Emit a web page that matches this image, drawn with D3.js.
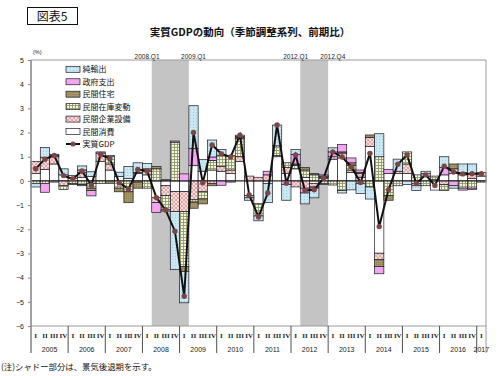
<!DOCTYPE html>
<html><head><meta charset="utf-8">
<script src="https://cdn.jsdelivr.net/npm/d3@7"></script>
<style>
body{margin:0;background:#fff;}
svg{display:block;font-family:"Liberation Sans",Arial,"Noto Sans CJK JP",sans-serif;}
</style>
</head><body>
<svg id="c" width="500" height="376"></svg>
<script>
// ---- data ----
const years = ["2005","2006","2007","2008","2009","2010","2011","2012","2013","2014","2015","2016","2017"];
const qNames = ["I","II","III","IV"];
const quarters = [];
years.forEach(y => qNames.forEach((q, i) => { if (y !== "2017" || i === 0) quarters.push(y + "Q" + (i + 1)); }));

const seriesNames = ["民間消費","民間企業設備","民間在庫変動","民間住宅","政府支出","純輸出"];
const consumption = [0.3,0.48,0.7,0.25,0.1,0.15,0.18,0.8,0.45,0.18,0.1,0.3,0.25,-0.7,-0.2,-0.44,-0.44,0.63,0.4,0.45,0.4,0.3,0.8,-0.6,-0.95,-0.1,1.0,0.3,0.5,0.15,-0.1,0.1,0.9,0.95,0.35,0.15,1.42,-2.99,0.3,0.3,0.3,-0.1,0.2,-0.38,0.25,0.3,0.25,0.1,0.2];
const capex = [0.5,0.5,0.3,-0.2,0.12,0.2,-0.1,0.35,0.25,0,0,0.05,0.15,-0.2,-0.4,-0.83,-0.83,-0.78,-0.45,-0.1,0.2,0.15,0.2,0.2,0.15,0.25,0.05,0.25,-0.25,-0.3,-0.15,0.05,0.1,0.2,0.1,0.15,0.38,-0.27,0,0.1,0.4,-0.1,0.1,0.05,-0.15,0.2,0.1,0.2,0.15];
const inventory = [-0.1,-0.1,0.05,-0.15,-0.1,-0.15,-0.2,-0.1,0.3,-0.3,-0.45,-0.05,-0.3,0.5,-0.6,1.6,-2.27,-0.1,-0.3,0.4,0.45,0.6,0.74,-0.1,-0.5,0,0.4,0.2,0.15,0.3,0.25,-0.1,-0.17,-0.4,0.2,-0.1,-0.25,1.0,-0.6,-0.2,0.5,0.25,-0.2,0.15,-0.25,0,-0.3,-0.3,-0.05];
const housing = [0,0,0.05,0,-0.05,-0.05,-0.1,0,-0.1,-0.15,-0.45,-0.25,0.1,0.1,0.05,0,-0.2,-0.25,-0.2,-0.1,0,0,0.05,0,0,0,0,0,0.05,0.1,0.05,0.05,0,0.05,0.1,0.05,0.1,-0.28,-0.2,0,0,0,0,0,0,0.2,0,0,0];
const government = [0,-0.37,0,0,0,0.1,-0.22,0.05,0,0,0,0,0,-0.4,0,0.05,0.29,0.72,0,0.14,-0.18,-0.05,0.05,0,0,0.15,0,-0.15,0.4,-0.2,-0.05,0.05,0.2,0.3,0.2,0.1,0,-0.3,0.18,0,0,0,0,0,0.3,-0.2,-0.08,-0.05,0];
const netExports = [-0.15,0.4,-0.05,0.25,0,0.17,0.2,0,0.05,0.18,0.5,0.4,0.22,0,-0.05,-2.4,-1.3,1.76,0.48,0.7,0.25,0,0.05,-0.1,-0.2,-0.8,0.86,-0.65,0.2,-0.45,-0.4,-0.05,0.17,-0.1,-0.37,-0.42,-0.5,0.95,0,0.5,-0.15,-0.2,0.1,0,0.45,-0.1,0.35,0.4,0];
const realGDP = [0.5,0.9,1.05,0.22,0.08,0.41,-0.18,1.09,0.91,-0.08,-0.33,0.47,0.41,-0.69,-1.2,-2.08,-4.77,2.0,-0.08,1.49,1.12,0.99,1.89,-0.58,-1.49,-0.5,2.31,-0.1,1.07,-0.4,-0.37,0.11,1.2,0.99,0.58,-0.07,1.14,-1.89,-0.37,0.69,1.07,-0.11,0.25,-0.19,0.61,0.37,0.29,0.3,0.3];
const yTicks = [-6,-5,-4,-3,-2,-1,0,1,2,3,4,5];
const recessions = [["2008Q2","2009Q1"],["2012Q2","2012Q4"]];
const recessionLabels = [["2008.Q1","2008Q1"],["2009.Q1","2009Q2"],["2012.Q1","2012Q1"],["2012.Q4","2013Q1"]];
const legendNames = ["純輸出","政府支出","民間住宅","民間在庫変動","民間企業設備","民間消費","実質GDP"];

// ---- chart ----
const svg = d3.select("#c");
const L = 31, R = 486, T = 60, B = 326;
const x = d3.scaleBand().domain(quarters).range([L, R]).padding(0);
const y = d3.scaleLinear().domain([-6, 5]).range([B, T]);
const bw = x.bandwidth();

const defs = svg.append("defs");
let p = defs.append("pattern").attr("id","pNet").attr("width",3).attr("height",3).attr("patternUnits","userSpaceOnUse");
p.append("rect").attr("width",3).attr("height",3).attr("fill","#c9e8f3");
p.append("rect").attr("x",1).attr("y",1).attr("width",0.8).attr("height",0.8).attr("fill","#8fbcd0");
p = defs.append("pattern").attr("id","pInv").attr("width",3).attr("height",3).attr("patternUnits","userSpaceOnUse");
p.append("rect").attr("width",3).attr("height",3).attr("fill","#f4f4e2");
p.append("path").attr("d","M0,0.5H3M0.5,0V3").attr("stroke","#8f9a66").attr("stroke-width",0.9);
p = defs.append("pattern").attr("id","pCap").attr("width",4).attr("height",4).attr("patternUnits","userSpaceOnUse");
p.append("rect").attr("width",4).attr("height",4).attr("fill","#f8dcdc");
p.append("path").attr("d","M0,0L4,4M4,0L0,4").attr("stroke","#d39090").attr("stroke-width",0.7);
p = defs.append("pattern").attr("id","pHou").attr("width",2).attr("height",2).attr("patternUnits","userSpaceOnUse");
p.append("rect").attr("width",2).attr("height",2).attr("fill","#a39564");
p.append("rect").attr("width",1).attr("height",1).attr("fill","#8f8152");

const fills = {"民間消費":"#ffffff","民間企業設備":"url(#pCap)","民間在庫変動":"url(#pInv)","民間住宅":"url(#pHou)","政府支出":"#f2a6ef","純輸出":"url(#pNet)"};

svg.append("g").selectAll("rect").data(recessions).join("rect")
  .attr("x", d => x(d[0])).attr("y", T)
  .attr("width", d => x(d[1]) + bw - x(d[0])).attr("height", B - T)
  .attr("fill", "#c4c4c4");

const rows = quarters.map((q, i) => ({q, "民間消費":consumption[i],"民間企業設備":capex[i],"民間在庫変動":inventory[i],"民間住宅":housing[i],"政府支出":government[i],"純輸出":netExports[i]}));
const stack = d3.stack().keys(seriesNames).offset(d3.stackOffsetDiverging)(rows);
svg.append("g").selectAll("g").data(stack).join("g")
  .attr("fill", d => fills[d.key])
  .selectAll("rect").data(d => d.filter(s => s[1] !== s[0])).join("rect")
  .attr("x", d => x(d.data.q)).attr("width", bw)
  .attr("y", d => y(Math.max(d[0], d[1])))
  .attr("height", d => Math.abs(y(d[0]) - y(d[1])))
  .attr("stroke", "#1c1c28").attr("stroke-width", 0.7);

svg.append("line").attr("x1", L).attr("x2", R).attr("y1", y(0)).attr("y2", y(0)).attr("stroke", "#222").attr("stroke-width", 0.8);

svg.append("path").datum(realGDP)
  .attr("d", d3.line().x((d, i) => x(quarters[i]) + bw / 2).y(d => y(d)))
  .attr("fill", "none").attr("stroke", "#111").attr("stroke-width", 2);
svg.append("g").selectAll("circle").data(realGDP).join("circle")
  .attr("cx", (d, i) => x(quarters[i]) + bw / 2).attr("cy", d => y(d)).attr("r", 2.7)
  .attr("fill", "#7a4646");

svg.append("line").attr("x1", L).attr("x2", R).attr("y1", T).attr("y2", T).attr("stroke", "#9a9a9a").attr("stroke-width", 1);
svg.append("line").attr("x1", L).attr("x2", R).attr("y1", B).attr("y2", B).attr("stroke", "#9a9a9a").attr("stroke-width", 1);
svg.append("line").attr("x1", R).attr("x2", R).attr("y1", T).attr("y2", 353).attr("stroke", "#9a9a9a").attr("stroke-width", 1);

const ya = svg.append("g").attr("transform", `translate(${L},0)`)
  .call(d3.axisLeft(y).tickValues(yTicks).tickSize(3).tickPadding(4).tickFormat(d3.format("d")));
ya.select(".domain").remove();
ya.selectAll(".tick line").attr("stroke", "#888");
ya.selectAll("text").attr("font-size", 7).attr("fill", "#222").attr("font-family", "Liberation Sans, Arial, sans-serif");
svg.append("line").attr("x1", L).attr("x2", L).attr("y1", T).attr("y2", 353).attr("stroke", "#8a8a8a").attr("stroke-width", 1.6);

svg.append("g").selectAll("text").data(quarters).join("text")
  .attr("x", d => x(d) + bw / 2).attr("y", 337.5)
  .attr("text-anchor", "middle").attr("font-size", 7).attr("font-weight", "bold")
  .attr("font-family", "Liberation Serif, Times New Roman, serif").attr("fill", "#222")
  .text(d => qNames[+d.slice(5) - 1]);
svg.append("g").selectAll("text").data(years).join("text")
  .attr("x", d => { const qs = quarters.filter(q => q.startsWith(d)); return (x(qs[0]) + x(qs[qs.length - 1]) + bw) / 2; })
  .attr("y", 351.5).attr("text-anchor", "middle").attr("font-size", 7).attr("fill", "#222")
  .text(d => d);
svg.append("g").selectAll("line").data(years.slice(1)).join("line")
  .attr("x1", d => x(d + "Q1")).attr("x2", d => x(d + "Q1"))
  .attr("y1", B).attr("y2", 353).attr("stroke", "#222").attr("stroke-width", 0.8);

svg.append("g").selectAll("text").data(recessionLabels).join("text")
  .attr("x", d => x(d[1]) + bw / 2).attr("y", 58.5).attr("text-anchor", "middle")
  .attr("font-size", 6.5).attr("fill", "#222").text(d => d[0]);

svg.append("text").attr("x", 33).attr("y", 54).attr("font-size", 5.5).attr("fill", "#222").text("(%)");

svg.append("rect").attr("x", 27.5).attr("y", 7.5).attr("width", 50).attr("height", 17).attr("fill", "none").attr("stroke", "#111").attr("stroke-width", 1);
svg.append("text").attr("x", 52).attr("y", 21).attr("text-anchor", "middle").attr("font-size", 12)
  .attr("font-family", "Noto Sans CJK JP, sans-serif").attr("fill", "#111").text("図表5");
svg.append("text").attr("x", 250).attr("y", 36).attr("text-anchor", "middle").attr("font-size", 10.5).attr("font-weight", "bold")
  .attr("font-family", "Noto Sans CJK JP, sans-serif").attr("fill", "#111").text("実質GDPの動向（季節調整系列、前期比）");

const lg = svg.append("g").attr("font-family", "Noto Sans CJK JP, sans-serif");
legendNames.forEach((n, i) => {
  const cy = 69.3 + i * 12.45;
  if (n === "実質GDP") {
    lg.append("line").attr("x1", 66).attr("x2", 80).attr("y1", cy).attr("y2", cy).attr("stroke", "#111").attr("stroke-width", 2);
    lg.append("circle").attr("cx", 73).attr("cy", cy).attr("r", 2.5).attr("fill", "#7a4646");
  } else {
    lg.append("rect").attr("x", 66).attr("y", cy - 3).attr("width", 14).attr("height", 6)
      .attr("fill", fills[n]).attr("stroke", "#1c1c28").attr("stroke-width", 0.7);
  }
  lg.append("text").attr("x", 82.5).attr("y", cy + 3).attr("font-size", 8).attr("fill", "#111").text(n);
});

svg.append("text").attr("x", 1).attr("y", 370).attr("font-size", 8.4)
  .attr("font-family", "Noto Sans CJK JP, sans-serif").attr("fill", "#111").text("(注)シャドー部分は、景気後退期を示す。");
</script>
</body></html>
